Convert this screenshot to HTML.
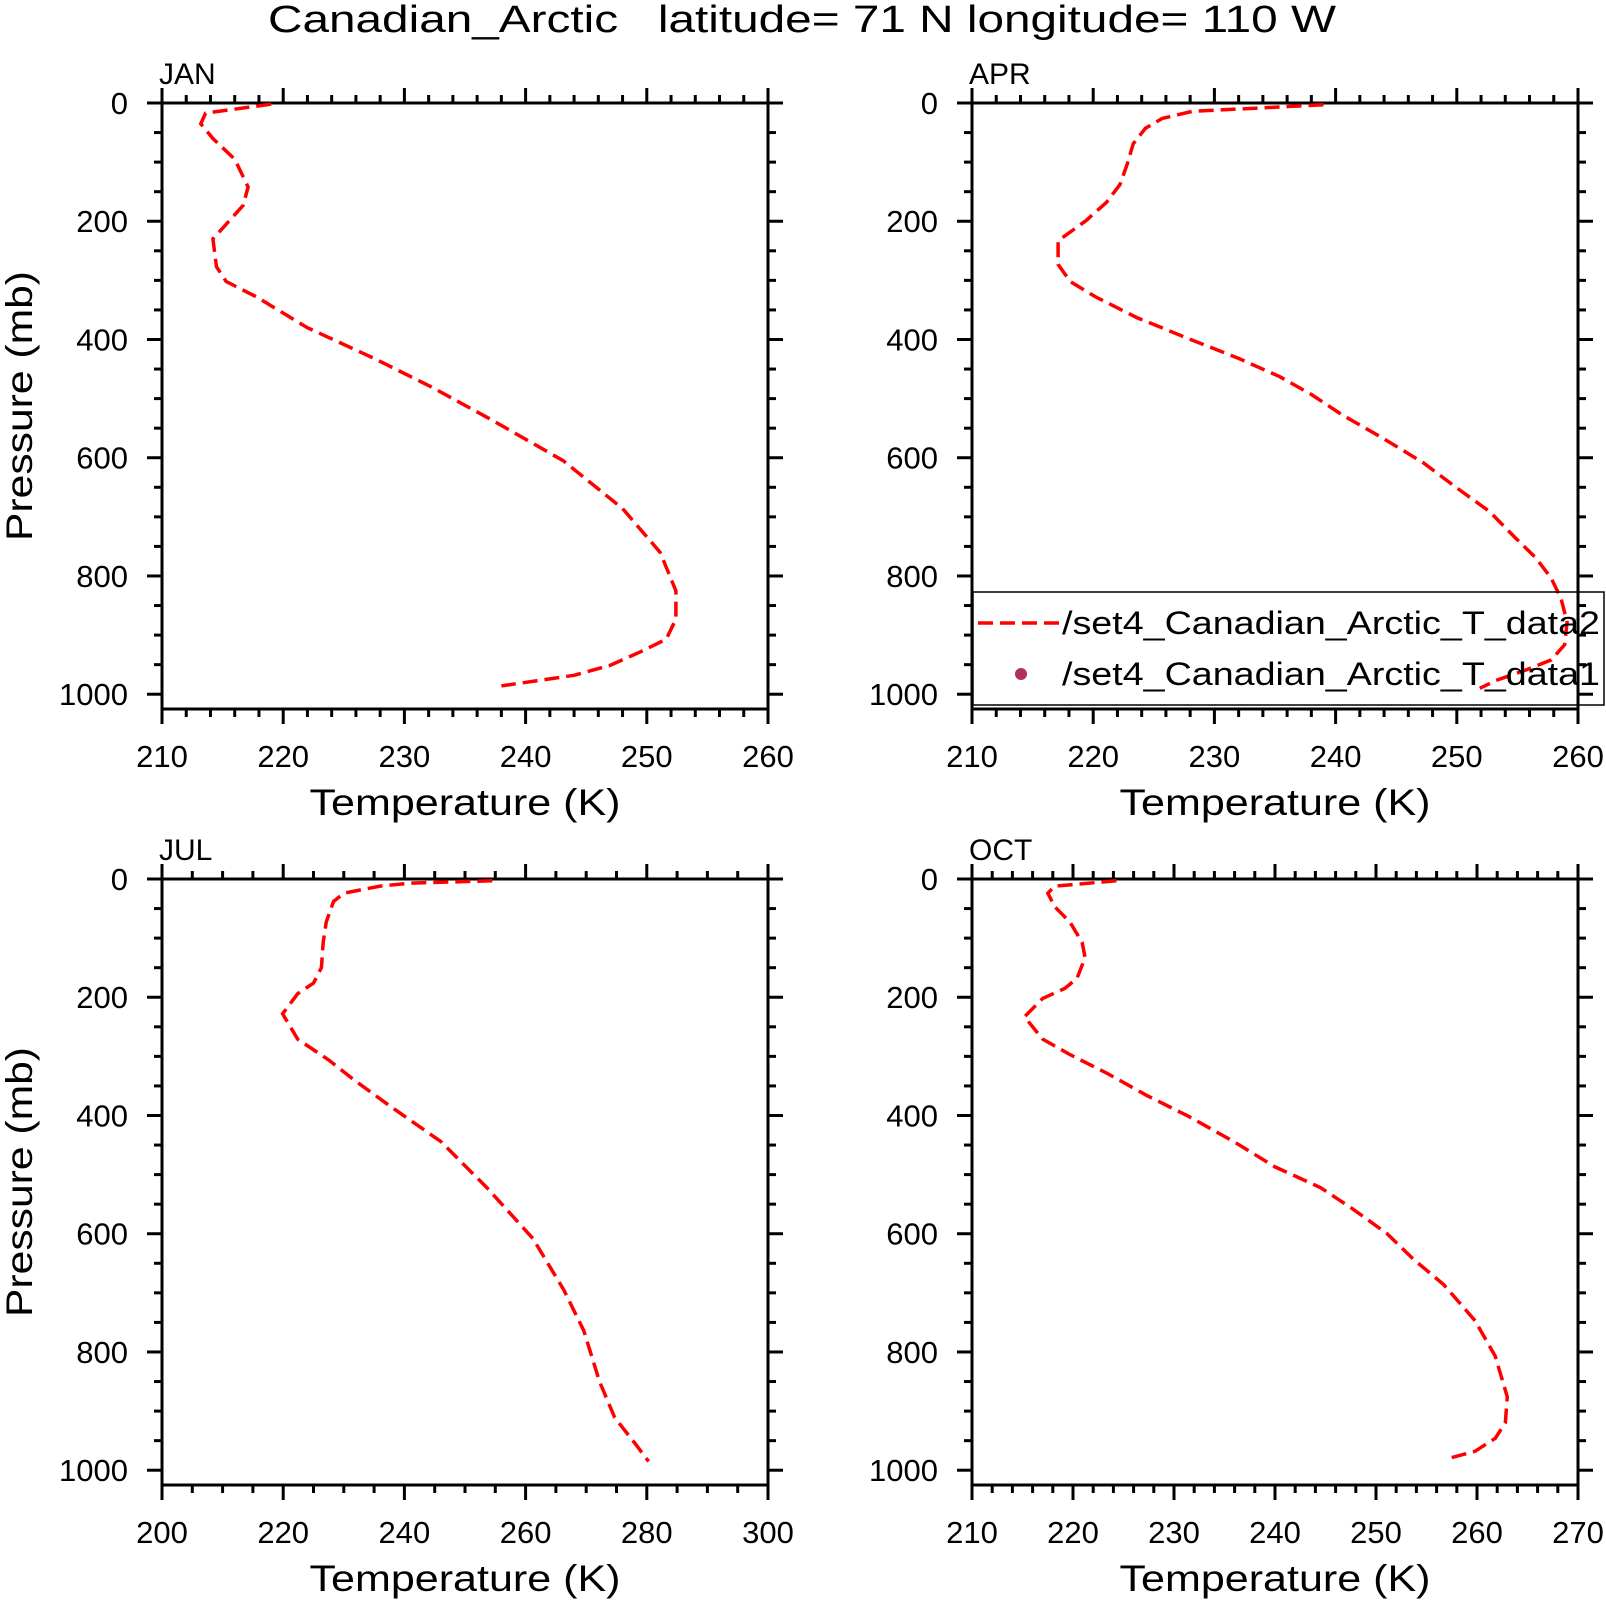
<!DOCTYPE html>
<html><head><meta charset="utf-8"><style>
html,body{margin:0;padding:0;background:#fff;}
svg{display:block;}
text{font-family:"Liberation Sans",sans-serif;fill:#000;}
</style></head><body>
<svg id="chart" width="1606" height="1600" viewBox="0 0 1606 1600" xmlns="http://www.w3.org/2000/svg">
<text x="802" y="32" text-anchor="middle" font-size="38" style="white-space:pre" xml:space="preserve" textLength="1068" lengthAdjust="spacingAndGlyphs">Canadian_Arctic   latitude= 71 N longitude= 110 W</text>
</svg>
<script>
// ---- data ----
const panelNames = ["JAN","APR","JUL","OCT"];
const janPressure = [2,17,35,60,95,142,173,230,277,302,328,380,432,480,536,605,686,760,825,873,907,928,951,968,986];
const janTemp = [219,213.6,213.2,214.2,216,217.1,216.7,214.2,214.5,215.3,217.8,222,227.5,232.2,237.2,243.1,248,251.1,252.4,252.4,251.6,249.5,247,244,238];
const aprPressure = [3,14,26,43,69,104,138,168,199,233,273,302,328,363,398,432,463,493,527,567,608,648,691,735,769,804,838,878,916,942,959,977,990];
const aprTemp = [239,228.2,225.7,224.3,223.3,222.8,222.2,221.1,219.4,217.1,217.1,218.1,220.2,223.6,227.8,232,235.4,238,240.5,243.9,247.2,249.8,252.7,254.8,256.5,257.8,258.6,259.1,258.9,257.8,255.7,253.2,251.9];
const julPressure = [3,7,12,24,38,73,107,150,176,194,228,271,306,340,384,444,522,608,695,764,850,911,954,985];
const julTemp = [254.5,241,236,230,228.3,227.1,226.6,226.3,225,222.4,219.9,222.4,227.5,231.7,237.6,246,253.6,261.2,266.3,269.6,272.2,274.7,278,280.3];
const octPressure = [3,12,24,47,73,107,133,168,185,202,233,271,297,328,366,401,444,487,522,557,600,643,686,747,807,876,920,946,968,980];
const octTemp = [224.3,218.2,217.5,218.2,219.7,220.9,221.2,220.4,219.2,217,215.2,217,219.7,223.3,227.3,231.4,235.9,240,244.5,247.6,251.1,253.7,256.7,259.8,261.8,263,262.8,261.8,259.8,257.2];
const janXTicks = [210,220,230,240,250,260];
const aprXTicks = [210,220,230,240,250,260];
const julXTicks = [200,220,240,260,280,300];
const octXTicks = [210,220,230,240,250,260,270];
const yTicks = [0,200,400,600,800,1000];
const legendLabels = ["/set4_Canadian_Arctic_T_data2","/set4_Canadian_Arctic_T_data1"];

// ---- layout ----
const NS="http://www.w3.org/2000/svg";
const svg=document.getElementById('chart');
function mk(tag,attrs,parent){const e=document.createElementNS(NS,tag);for(const k in attrs)e.setAttribute(k,attrs[k]);(parent||svg).appendChild(e);return e;}
const W=606,H=606,PMAX=1025;
const panels=[
 {name:panelNames[0],x0:162,y0:103,tmin:210,tmax:260,minor:2,xt:janXTicks,p:janPressure,t:janTemp,ylab:true},
 {name:panelNames[1],x0:972,y0:103,tmin:210,tmax:260,minor:2,xt:aprXTicks,p:aprPressure,t:aprTemp,ylab:false,legend:true},
 {name:panelNames[2],x0:162,y0:879,tmin:200,tmax:300,minor:5,xt:julXTicks,p:julPressure,t:julTemp,ylab:true},
 {name:panelNames[3],x0:972,y0:879,tmin:210,tmax:270,minor:2,xt:octXTicks,p:octPressure,t:octTemp,ylab:false}
];
panels.forEach(pn=>{
 const g=mk('g',{});
 
 
 const xs=t=>pn.x0+(t-pn.tmin)/(pn.tmax-pn.tmin)*W;
 const ys=p=>pn.y0+p/PMAX*H;
 const ax=mk('g',{stroke:'#000','stroke-width':3},g);
 
 
 mk('rect',{x:pn.x0,y:pn.y0,width:W,height:H,fill:'none'},ax);
 for(let t=pn.tmin;t<=pn.tmax+1e-9;t+=pn.minor){
   const major=pn.xt.some(v=>Math.abs(v-t)<1e-9);const L=major?15:8;const x=xs(t);
   mk('line',{x1:x,x2:x,y1:pn.y0,y2:pn.y0-L},ax);
   mk('line',{x1:x,x2:x,y1:pn.y0+H,y2:pn.y0+H+L},ax);
 }
 for(let p=0;p<=1000;p+=50){
   const major=p%200===0;const L=major?15:8;const y=ys(p);
   mk('line',{x1:pn.x0,x2:pn.x0-L,y1:y,y2:y},ax);
   mk('line',{x1:pn.x0+W,x2:pn.x0+W+L,y1:y,y2:y},ax);
 }
 pn.xt.forEach(v=>{const tx=mk('text',{x:xs(v),y:pn.y0+H+58,'text-anchor':'middle','font-size':31},g);
   tx.textContent=v;});
 yTicks.forEach(v=>{const tx=mk('text',{x:pn.x0-34,y:ys(v)+11,'text-anchor':'end','font-size':31},g);
   tx.textContent=v;});
 const xt=mk('text',{x:pn.x0+W/2,y:pn.y0+H+106,'text-anchor':'middle','font-size':37,textLength:311,lengthAdjust:'spacingAndGlyphs'},g);
 xt.textContent='Temperature (K)';
 if(pn.ylab){const yt=mk('text',{x:0,y:0,'text-anchor':'middle','font-size':37,textLength:270,lengthAdjust:'spacingAndGlyphs',transform:`translate(32,${pn.y0+303}) rotate(-90)`},g);
   yt.textContent='Pressure (mb)';}
 const lb=mk('text',{x:pn.x0-3,y:pn.y0-19,'font-size':30},g);
 lb.textContent=pn.name;
 const pts=pn.p.map((p,i)=>xs(pn.t[i]).toFixed(1)+','+ys(p).toFixed(1)).join(' ');
 const ln=mk('polyline',{points:pts,fill:'none',stroke:'#ff0000','stroke-width':3.5,'stroke-dasharray':'15 7'},g);
 
 
 if(pn.legend){
   const lg=mk('g',{},g);
   
   mk('rect',{x:973,y:592,width:631,height:113,fill:'none',stroke:'#000','stroke-width':1.5},lg);
   const e1=mk('line',{x1:978,x2:1065,y1:623,y2:623,stroke:'#ff0000','stroke-width':3.5,'stroke-dasharray':'15 7'},lg);
   
   const t1=mk('text',{x:1062,y:634,'font-size':32,textLength:538,lengthAdjust:'spacingAndGlyphs'},lg);
   t1.textContent=legendLabels[0];
   const d=mk('circle',{cx:1021,cy:674,r:6,fill:'#b03060'},lg);
   
   const t2=mk('text',{x:1062,y:685,'font-size':32,textLength:538,lengthAdjust:'spacingAndGlyphs'},lg);
   t2.textContent=legendLabels[1];
 }
});
</script>
</body></html>
